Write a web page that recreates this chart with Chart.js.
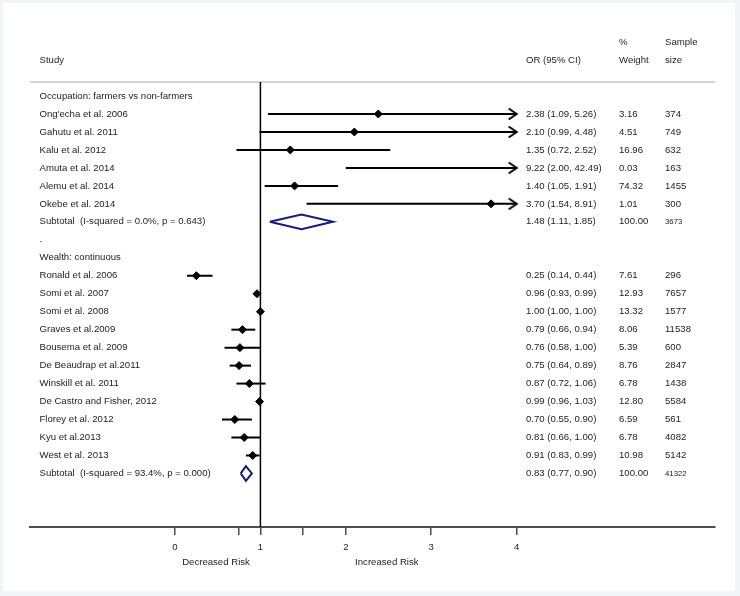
<!DOCTYPE html>
<html>
<head>
<meta charset="utf-8">
<script src="https://cdn.jsdelivr.net/npm/chart.js@4.4.1/dist/chart.umd.min.js"></script>
<style>
  html, body { margin: 0; padding: 0; background: #f2f5f5; }
  #frame { position: absolute; left: 3px; top: 3px; width: 732px; height: 588px; background: #fff; }
  #forest { position: absolute; left: 0; top: 0; }
</style>
</head>
<body>
<div id="frame"></div>
<canvas id="forest" width="740" height="596"></canvas>
<script>
// Occupation: farmers vs non-farmers
var occStudies = ["Ong'echa et al. 2006", "Gahutu et al. 2011", "Kalu et al. 2012",
  "Amuta et al. 2014", "Alemu et al. 2014", "Okebe et al. 2014"];
var occOR = [2.38, 2.10, 1.35, 9.22, 1.40, 3.70];
var occLo = [1.09, 0.99, 0.72, 2.00, 1.05, 1.54];
var occHi = [5.26, 4.48, 2.52, 42.49, 1.91, 8.91];
var occWeight = [3.16, 4.51, 16.96, 0.03, 74.32, 1.01];
var occN = [374, 749, 632, 163, 1455, 300];
var occSub = [1.48, 1.11, 1.85];   // OR, lo, hi
var occSubN = 3673;
var occSubLabel = 'Subtotal  (I-squared = 0.0%, p = 0.643)';

// Wealth: continuous
var wStudies = ["Ronald et al. 2006", "Somi et al. 2007", "Somi et al. 2008", "Graves et al.2009",
  "Bousema et al. 2009", "De Beaudrap et al.2011", "Winskill et al. 2011",
  "De Castro and Fisher, 2012", "Florey et al. 2012", "Kyu et al.2013", "West et al. 2013"];
var wOR = [0.25, 0.96, 1.00, 0.79, 0.76, 0.75, 0.87, 0.99, 0.70, 0.81, 0.91];
var wLo = [0.14, 0.93, 1.00, 0.66, 0.58, 0.64, 0.72, 0.96, 0.55, 0.66, 0.83];
var wHi = [0.44, 0.99, 1.00, 0.94, 1.00, 0.89, 1.06, 1.03, 0.90, 1.00, 0.99];
var wWeight = [7.61, 12.93, 13.32, 8.06, 5.39, 8.76, 6.78, 12.80, 6.59, 6.78, 10.98];
var wN = [296, 7657, 1577, 11538, 600, 2847, 1438, 5584, 561, 4082, 5142];
var wSub = [0.83, 0.77, 0.90];
var wSubN = 41322;
var wSubLabel = 'Subtotal  (I-squared = 93.4%, p = 0.000)';

var xTicks = [0, 0.75, 1, 1.5, 2, 3, 4];
var xTickLabels = ['0', '', '1', '', '2', '3', '4'];
var axisCap = 4;

var FONT = '"Liberation Sans", Arial, sans-serif';

// build the rows of the table, top to bottom
var rows = [];
function addGroup(title, names, or, lo, hi, wt, n, sub, subN, subLabel) {
  rows.push({ kind: 'group', label: title });
  for (var i = 0; i < names.length; i++) {
    rows.push({ kind: 'study', label: names[i], or: or[i], lo: lo[i], hi: hi[i], w: wt[i], n: n[i] });
  }
  rows.push({ kind: 'sub', label: subLabel, or: sub[0], lo: sub[1], hi: sub[2], w: 100, n: subN });
}
addGroup('Occupation: farmers vs non-farmers', occStudies, occOR, occLo, occHi, occWeight, occN, occSub, occSubN, occSubLabel);
rows.push({ kind: 'gap', label: '.' });
addGroup('Wealth: continuous', wStudies, wOR, wLo, wHi, wWeight, wN, wSub, wSubN, wSubLabel);

var yTop = -0.78, yBottom = 23.98;
var xMin = -1.6975, xMax = 6.322;

// chevron used as arrow head where the CI runs past the axis
var arrowImg = document.createElement('canvas');
arrowImg.width = 20; arrowImg.height = 14;
(function () {
  var c = arrowImg.getContext('2d');
  c.strokeStyle = '#000';
  c.lineWidth = 2;
  c.beginPath();
  c.moveTo(2, 1.5);
  c.lineTo(10, 7);
  c.lineTo(2, 12.5);
  c.stroke();
})();

var datasets = [];
var pts = [], arrows = [];
rows.forEach(function (r, i) {
  if (r.kind == 'study') {
    datasets.push({
      type: 'line',
      data: [{ x: r.lo, y: i }, { x: Math.min(r.hi, axisCap), y: i }],
      borderColor: '#000', borderWidth: 2, pointRadius: 0
    });
    if (r.or <= axisCap) pts.push({ x: r.or, y: i });
    if (r.hi > axisCap) arrows.push({ x: axisCap, y: i });
  }
  if (r.kind == 'sub') {
    var h = 0.41;
    datasets.push({
      type: 'line',
      data: [{ x: r.lo, y: i }, { x: r.or, y: i - h }, { x: r.hi, y: i }, { x: r.or, y: i + h }, { x: r.lo, y: i }],
      borderColor: '#1a1a78', borderWidth: 2, pointRadius: 0, borderJoinStyle: 'miter'
    });
  }
});
datasets.push({
  type: 'scatter', data: pts,
  pointStyle: 'rectRot', pointRadius: 4, backgroundColor: '#000', borderColor: '#000', borderWidth: 1
});
datasets.push({
  type: 'scatter', data: arrows, pointStyle: arrowImg, pointRadius: 7
});
// no-effect line at OR = 1
datasets.push({
  type: 'line', data: [{ x: 1, y: yTop }, { x: 1, y: yBottom }],
  borderColor: '#000', borderWidth: 1.5, pointRadius: 0, clip: false
});
// header rule
datasets.push({
  type: 'line', data: [{ x: xMin, y: yTop }, { x: xMax, y: yTop }],
  borderColor: '#d3d3d3', borderWidth: 2, pointRadius: 0, clip: false
});

var tablePlugin = {
  id: 'tableText',
  afterDatasetsDraw: function (chart) {
    var ctx = chart.ctx, ys = chart.scales.y, xs = chart.scales.x;
    ctx.save();
    ctx.fillStyle = '#1e1e1e';
    ctx.textBaseline = 'middle';
    ctx.textAlign = 'left';
    ctx.font = '9.6px ' + FONT;
    var colName = 39.5, colOR = 526, colW = 619, colN = 665;

    // headers
    var h1 = ys.getPixelForValue(-3.0), h2 = ys.getPixelForValue(-2.0);
    ctx.fillText('Study', colName, h2);
    ctx.fillText('OR (95% CI)', colOR, h2);
    ctx.fillText('%', colW, h1);
    ctx.fillText('Weight', colW, h2);
    ctx.fillText('Sample', colN, h1);
    ctx.fillText('size', colN, h2);

    rows.forEach(function (r, i) {
      var y = ys.getPixelForValue(i);
      ctx.font = '9.6px ' + FONT;
      ctx.fillText(r.label, colName, y);
      if (r.kind == 'study' || r.kind == 'sub') {
        ctx.fillText(r.or.toFixed(2) + ' (' + r.lo.toFixed(2) + ', ' + r.hi.toFixed(2) + ')', colOR, y);
        ctx.fillText(r.w.toFixed(2), colW, y);
        if (r.kind == 'sub') ctx.font = '7.8px ' + FONT;
        ctx.fillText(String(r.n), colN, y);
      }
    });

    ctx.font = '9.6px ' + FONT;
    ctx.textAlign = 'center';
    ctx.fillText('Decreased Risk', xs.getPixelForValue(0.48), 562);
    ctx.fillText('Increased Risk', xs.getPixelForValue(2.48), 562);
    ctx.restore();
  }
};

new Chart(document.getElementById('forest'), {
  type: 'scatter',
  data: { datasets: datasets },
  options: {
    responsive: false,
    animation: false,
    layout: { padding: { left: 30, right: 25, top: 82, bottom: 0 } },
    plugins: { legend: { display: false }, tooltip: { enabled: false } },
    elements: { line: { tension: 0 } },
    scales: {
      x: {
        type: 'linear', min: xMin, max: xMax,
        afterBuildTicks: function (s) { s.ticks = xTicks.map(function (v) { return { value: v }; }); },
        afterFit: function (s) { s.height = 69; },
        grid: { drawOnChartArea: false, drawTicks: true, tickLength: 8, color: '#4d4d4d', lineWidth: 1.5 },
        border: { display: true, color: '#4d4d4d', width: 2 },
        ticks: {
          autoSkip: false, maxRotation: 0, padding: 7, color: '#1e1e1e',
          font: { family: FONT, size: 9.6 },
          callback: function (v, idx) { return xTickLabels[idx]; }
        }
      },
      y: { type: 'linear', reverse: true, min: yTop, max: yBottom, display: false }
    }
  },
  plugins: [tablePlugin]
});
</script>
</body>
</html>
